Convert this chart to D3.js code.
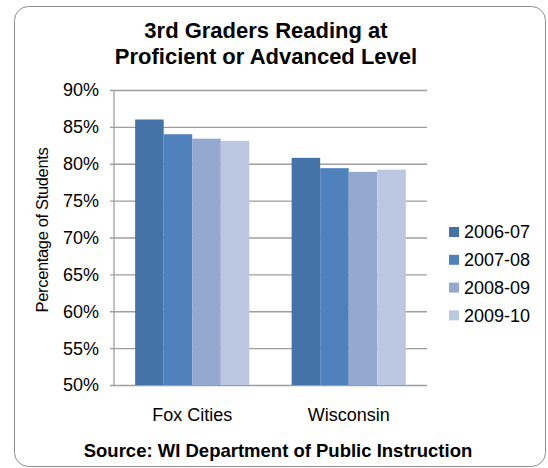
<!DOCTYPE html>
<html>
<head>
<meta charset="utf-8">
<script src="https://cdn.jsdelivr.net/npm/d3@7"></script>
<style>
  html, body { margin: 0; padding: 0; background: #fff; }
  svg { display: block; font-family: "Liberation Sans", Arial, sans-serif; }
</style>
</head>
<body>
<div id="chart"></div>
<script>
// data
const categories = ["Fox Cities", "Wisconsin"];
const seriesNames = ["2006-07", "2007-08", "2008-09", "2009-10"];
const seriesValues = [
    [86.0, 80.8],   // 2006-07
    [84.0, 79.4],   // 2007-08
    [83.4, 78.9],   // 2008-09
    [83.1, 79.2]    // 2009-10
];
const yTicks = [50, 55, 60, 65, 70, 75, 80, 85, 90];
const colors = ["#4572A7", "#4F81BD", "#95A9D0", "#BCC8E1"];

const width = 548, height = 468;
const plot = { left: 114, right: 427, top: 90, bottom: 385 };

const svg = d3.select("#chart").append("svg")
    .attr("width", width)
    .attr("height", height);

// outer frame
svg.append("rect")
    .attr("x", 14.5).attr("y", 6.5)
    .attr("width", 531).attr("height", 460)
    .attr("rx", 14).attr("ry", 14)
    .attr("fill", "#fff")
    .attr("stroke", "#8c8c8c")
    .attr("stroke-width", 1);

// title
const title = svg.append("text")
    .attr("text-anchor", "middle")
    .attr("font-weight", "bold")
    .attr("font-size", 22)
    .attr("fill", "#000");
title.append("tspan").attr("x", 266).attr("y", 38).text("3rd Graders Reading at");
title.append("tspan").attr("x", 266).attr("y", 64).text("Proficient or Advanced Level");

// scales
const y = d3.scaleLinear().domain([50, 90]).range([plot.bottom, plot.top]);
const x0 = d3.scaleBand().domain(categories).range([plot.left, plot.right]);
const x1 = d3.scaleBand().domain(seriesNames)
    .range([0, x0.bandwidth()])
    .paddingOuter(0.74);

// gridlines + ticks
const grid = svg.append("g")
    .attr("transform", `translate(${plot.left},0)`)
    .call(d3.axisLeft(y)
        .tickValues(yTicks)
        .tickSize(-(plot.right - plot.left))
        .tickFormat(""));
grid.select(".domain").remove();
grid.selectAll(".tick line")
    .attr("stroke", "#9e9e9e")
    .attr("stroke-width", 1.3)
    .attr("x1", -4);

// bars
svg.append("g")
    .selectAll("g")
    .data(seriesNames)
    .join("g")
    .attr("fill", (d, i) => colors[i])
    .selectAll("rect")
    .data((s, i) => categories.map((c, j) => ({ cat: c, series: s, value: seriesValues[i][j] })))
    .join("rect")
    .attr("x", d => x0(d.cat) + x1(d.series))
    .attr("width", x1.bandwidth())
    .attr("y", d => y(d.value))
    .attr("height", d => y(50) - y(d.value));

// y axis line
svg.append("line")
    .attr("x1", plot.left).attr("x2", plot.left)
    .attr("y1", plot.top).attr("y2", plot.bottom)
    .attr("stroke", "#9e9e9e")
    .attr("stroke-width", 1.3);

// y tick labels
svg.append("g")
    .selectAll("text")
    .data(yTicks)
    .join("text")
    .attr("x", 99)
    .attr("y", d => y(d))
    .attr("dy", "0.36em")
    .attr("text-anchor", "end")
    .attr("font-size", 18)
    .attr("fill", "#000")
    .text(d => d + "%");

// y axis title
svg.append("text")
    .attr("transform", "translate(48,230) rotate(-90)")
    .attr("text-anchor", "middle")
    .attr("font-size", 16.5)
    .attr("letter-spacing", -0.35)
    .attr("fill", "#000")
    .text("Percentage of Students");

// category labels
svg.append("g")
    .selectAll("text")
    .data(categories)
    .join("text")
    .attr("x", d => x0(d) + x0.bandwidth() / 2)
    .attr("y", 421)
    .attr("text-anchor", "middle")
    .attr("font-size", 18)
    .attr("fill", "#000")
    .text(d => d);

// legend
const legend = svg.append("g")
    .selectAll("g")
    .data(seriesNames)
    .join("g")
    .attr("transform", (d, i) => `translate(449,${232 + i * 27.8})`);
legend.append("rect")
    .attr("x", 0).attr("y", -5)
    .attr("width", 10).attr("height", 10)
    .attr("fill", (d, i) => colors[i]);
legend.append("text")
    .attr("x", 15)
    .attr("dy", "0.36em")
    .attr("font-size", 18)
    .attr("fill", "#000")
    .text(d => d);

// source
svg.append("text")
    .attr("x", 278)
    .attr("y", 457)
    .attr("text-anchor", "middle")
    .attr("font-weight", "bold")
    .attr("font-size", 18.5)
    .attr("fill", "#000")
    .text("Source: WI Department of Public Instruction");
</script>
</body>
</html>
